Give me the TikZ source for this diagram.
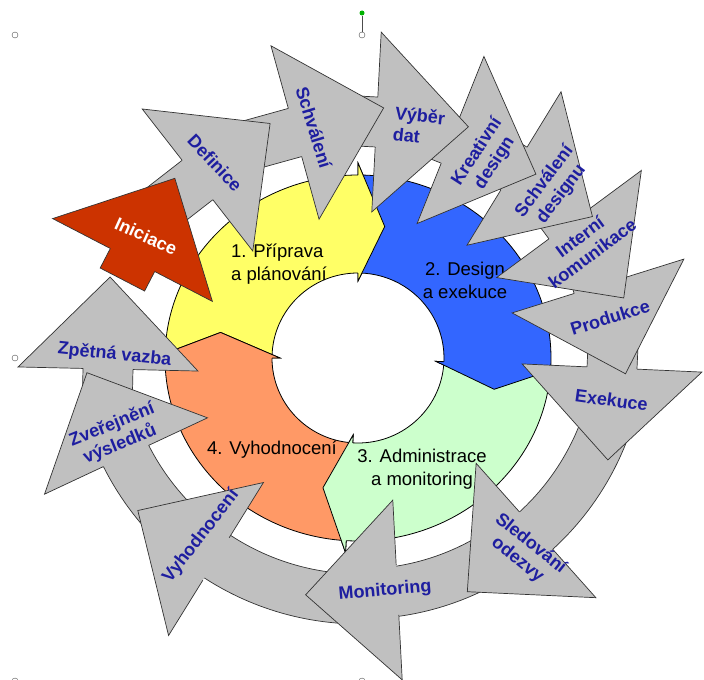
\documentclass[tikz,border=0pt]{standalone}
\usepackage{fontspec}
\setmainfont{Liberation Sans}
\usetikzlibrary{calc}
\definecolor{ringyellow}{RGB}{255,255,102}
\definecolor{ringblue}{RGB}{51,102,255}
\definecolor{ringgreen}{RGB}{204,255,204}
\definecolor{ringorange}{RGB}{255,153,102}
\definecolor{arrowgray}{RGB}{192,192,192}
\definecolor{inired}{RGB}{204,51,0}
\definecolor{labelblue}{RGB}{30,30,160}
\tikzset{
    ringline/.style={draw=black,line width=0.8bp},
    arrowfill/.style={fill=arrowgray},
    arrowline/.style={draw=black!80,line width=0.7bp},
    ringtext/.style={font=\fontsize{18.5bp}{23bp}\selectfont,inner sep=0pt},
    steptext/.style={font=\bfseries\fontsize{18bp}{21bp}\selectfont,text=labelblue,align=center,inner sep=0pt},
    handle/.style={circle,draw=black!70,fill=white,inner sep=0pt,minimum size=6bp},
    steparrow/.style={transform shape,rotate=#1},
    pics/ringpart/.style n args={3}{code={
        \filldraw[fill=#3,ringline] (#1-1:193 and 183) arc[start angle=#1-1,end angle=#2,x radius=193,y radius=183]
            -- (#2:205 and 195) -- (#2-11:140 and 134) -- (#2:78 and 77) -- (#2:86 and 85)
            arc[start angle=#2,end angle=#1-1,x radius=86,y radius=85] -- cycle;
    }},
    pics/ringhead/.style n args={2}{code={
        \fill[#2] (#1:205 and 195) -- (#1-11:140 and 134) -- (#1:78 and 77) -- cycle;
        \draw[ringline] (#1:193 and 183) -- (#1:205 and 195) -- (#1-11:140 and 134) -- (#1:78 and 77) -- (#1:86 and 85);
    }},
    pics/arrowhead/.style={code={
        \fill[arrowfill] (92,0) -- (0,90) -- (0,-90) -- cycle;
        \draw[arrowline] (0,25) -- (0,90) -- (92,0) -- (0,-90) -- (0,-25);
    }},
    pics/blockarrow/.style={code={
        \filldraw[arrowfill,arrowline] (4,25) -- (-#1,25) -- (-#1,-25) -- (4,-25);
        \pic at (0,0) {arrowhead};
    }}
}
\begin{document}
\begin{tikzpicture}[x=1bp,y=1bp]
\useasboundingbox (0,0) rectangle (704,-680);
\coordinate (ring) at (358,-358);
\coordinate (hub) at (360,-338);

% inner cycle
\pic at (ring) {ringpart={180}{90}{ringyellow}};
\pic at (ring) {ringpart={90}{-2.5}{ringblue}};
\pic at (ring) {ringpart={-2.5}{-93.5}{ringgreen}};
\pic at (ring) {ringpart={-93.5}{-180}{ringorange}};
\pic at (ring) {ringhead={90}{ringyellow}};
\pic at (ring) {ringhead={-2.5}{ringblue}};
\pic at (ring) {ringhead={-93.5}{ringgreen}};
\pic at (ring) {ringhead={-180}{ringorange}};

\node[ringtext,align=left] (phase1) at (279,-264) {1. Příprava\\a plánování};
\node[ringtext,align=center] (phase2) at (465,-280) {2. Design\\a exekuce};
\node[ringtext,align=center] (phase3) at (422,-469) {3. Administrace\\a monitoring};
\node[ringtext] (phase4) at (272,-450) {4. Vyhodnocení};

% outer steps, last one first
\pic[steparrow=88.7] at (108,-369) {blockarrow=40};
\filldraw[arrowfill,arrowline] ($(hub)+(204:287)$) arc[start angle=204,end angle=226,radius=287]
    -- ($(hub)+(226:237)$) arc[start angle=226,end angle=204,radius=237] -- cycle;
\pic[steparrow=115.1] at (126,-456) {arrowhead};
\filldraw[arrowfill,arrowline] ($(hub)+(234:286)$) arc[start angle=234,end angle=272,radius=286]
    -- ($(hub)+(272:236)$) arc[start angle=272,end angle=234,radius=236] -- cycle;
\pic[steparrow=148.2] at (216,-559) {arrowhead};
\filldraw[arrowfill,arrowline] ($(hub)+(-84:281)$) arc[start angle=-84,end angle=-60,radius=281]
    -- ($(hub)+(-60:231)$) arc[start angle=-60,end angle=-84,radius=231] -- cycle;
\pic[steparrow=183] at (397.5,-590) {arrowhead};
\filldraw[arrowfill,arrowline] ($(hub)+(-50:286)$) arc[start angle=-50,end angle=-12,radius=286]
    -- ($(hub)+(-12:236)$) arc[start angle=-12,end angle=-50,radius=236] -- cycle;
\pic[steparrow=-138.3] at (536,-530.5) {arrowhead};
\pic[steparrow=-92.6] at (612,-368) {blockarrow=40};
\pic[steparrow=-72.6] at (598,-286) {blockarrow=40};
\pic[steparrow=-53.5] at (569,-224) {blockarrow=40};
\pic[steparrow=-31.5] at (514,-168.5) {blockarrow=40};
\pic[steparrow=-21.8] at (450.5,-140) {blockarrow=40};
\pic[steparrow=-3] at (376.5,-122) {blockarrow=30};
\pic[steparrow=15.5] at (295,-132.5) {blockarrow=50};
\pic[steparrow=37.9] at (197.5,-180) {blockarrow=65};
\pic[steparrow=62.6,arrowfill/.style={fill=inired}] at (132.5,-260) {blockarrow=22};

\node[steptext,text=white,rotate=-24.3] (iniciace) at (146,-236) {Iniciace};
\node[steptext,rotate=-46.7] (definice) at (215,-163) {Definice};
\node[steptext,rotate=-73] (schvaleni) at (314,-127.5) {Schválení};
\node[steptext,align=left,rotate=-6] (vyber) at (419,-126) {Výběr\\dat};
\node[steptext,rotate=57] (kreativni) at (486,-157.5) {Kreativní\\design};
\node[steptext,rotate=53] (schvdesign) at (553,-188) {Schválení\\designu};
\node[steptext,rotate=36.5] (interni) at (586,-245) {Interní\\komunikace};
\node[steptext,rotate=17.4] (produkce) at (610,-317.5) {Produkce};
\node[steptext,rotate=-7.8] (exekuce) at (611.5,-400) {Exekuce};
\node[steptext,rotate=-38.5] (sledovani) at (524,-552) {Sledování\\odezvy};
\node[steptext,rotate=4.9] (monitoring) at (385,-591) {Monitoring};
\node[steptext,rotate=52.3] (vyhodnoceni) at (201,-536.5) {Vyhodnocení};
\node[steptext,rotate=22] (zverejneni) at (116,-435) {Zveřejnění\\výsledků};
\node[steptext,rotate=-6] (zpetna) at (114.5,-355) {Zpětná vazba};

% selection handles
\node[handle] (h1) at (15,-35) {};
\node[handle] (h2) at (362,-35) {};
\node[handle] (h3) at (709,-35) {};
\node[handle] (h4) at (15,-358) {};
\node[handle] (h5) at (709,-358) {};
\node[handle] (h6) at (15,-681) {};
\node[handle] (h7) at (362,-681) {};
\node[handle] (h8) at (709,-681) {};
\node[circle,fill=green!70!black,inner sep=0pt,minimum size=5bp] (rot) at (362,-13) {};
\draw[black!70,line width=0.6bp] (rot) -- (h2);
\end{tikzpicture}
\end{document}
